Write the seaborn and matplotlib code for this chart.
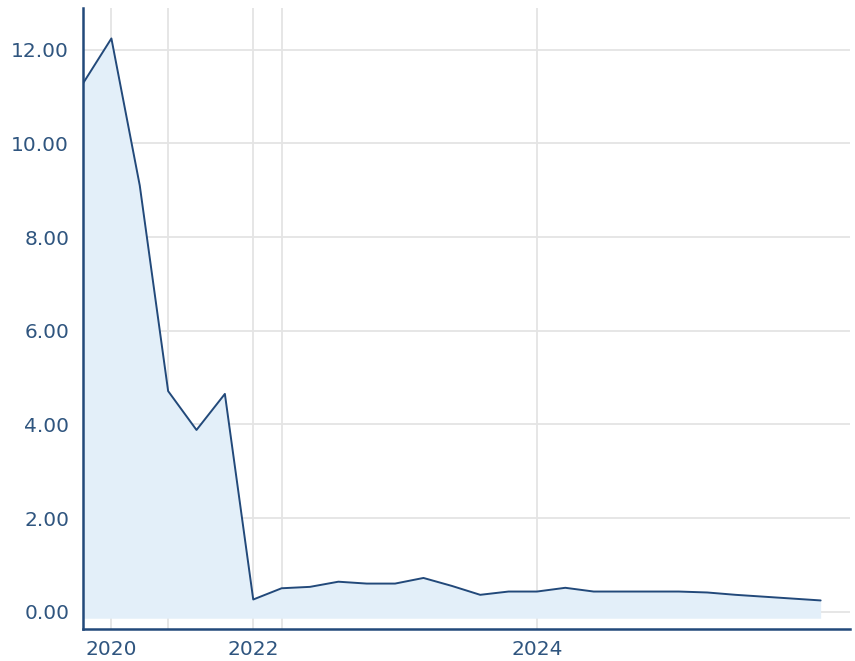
import matplotlib
matplotlib.use("Agg")
import matplotlib.pyplot as plt
import numpy as np
import pandas as pd
import seaborn as sns

# one value per period
period = list(range(27))
value = [11.28, 12.24, 9.1, 4.71, 3.88, 4.65, 0.26, 0.50, 0.53, 0.64,
         0.60, 0.60, 0.72, 0.55, 0.36, 0.43, 0.43, 0.51, 0.43, 0.43,
         0.43, 0.43, 0.41, 0.36, 0.32, 0.28, 0.24]

xtick_pos = [1, 3, 6, 7, 16]
xtick_labels = ["2020", "", "2022", "", "2024"]
ytick_pos = [0, 2, 4, 6, 8, 10, 12]

line_color = "#22497a"
fill_color = "#e3eff9"
text_color = "#2f557f"
grid_color = "#e4e4e4"

df = pd.DataFrame({"period": period, "value": value})

sns.set_style("white")
plt.rcParams["font.family"] = ["DejaVu Sans"]

fig = plt.figure(figsize=(8.55, 6.61), dpi=100)
ax = fig.add_axes([0.0971, 0.0484, 0.8969, 0.9395])

ax.fill_between(df["period"], df["value"], -0.14, color=fill_color, linewidth=0, zorder=1)
sns.lineplot(data=df, x="period", y="value", ax=ax, color=line_color, linewidth=1.4, zorder=3)

ax.set_xlim(0, 27.03)
ax.set_ylim(-0.37, 12.89)

ax.set_xticks(xtick_pos)
ax.set_xticklabels(xtick_labels)
ax.set_yticks(ytick_pos)
ax.set_yticklabels(["%.2f" % v for v in ytick_pos])

ax.grid(True, color=grid_color, linewidth=1.3, zorder=0)
ax.set_axisbelow(True)
ax.tick_params(axis="x", length=0, pad=8, labelsize=14.5, labelcolor=text_color)
ax.tick_params(axis="y", length=4, width=1.3, color=grid_color, pad=6,
               labelsize=14.5, labelcolor=text_color)

for s in ["top", "right"]:
    ax.spines[s].set_visible(False)
for s in ["left", "bottom"]:
    ax.spines[s].set_color(line_color)
    ax.spines[s].set_linewidth(1.8)

ax.set_xlabel("")
ax.set_ylabel("")

fig.savefig("out.png", dpi=100)
